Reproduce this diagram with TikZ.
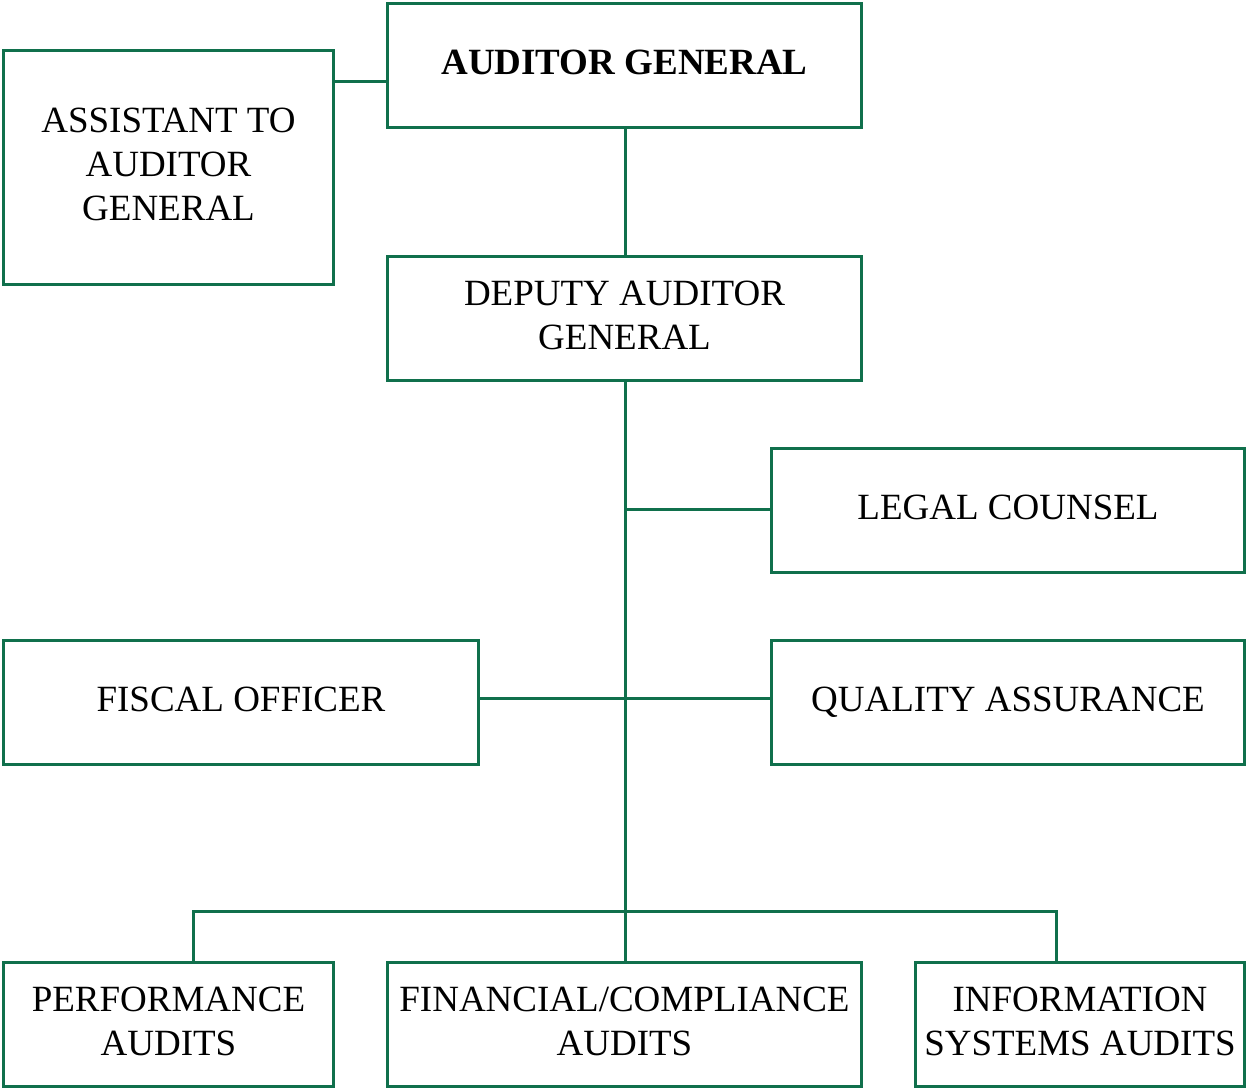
\documentclass[tikz,border=0pt]{standalone}
\usepackage{fontspec}
\setmainfont{Liberation Serif}
\definecolor{orggreen}{RGB}{16,112,76}
\begin{document}
\begin{tikzpicture}[x=1pt,y=-1pt,
  box/.style={draw=orggreen, line width=3pt, rectangle, inner sep=0pt, align=center,
    text depth=6pt, font=\fontsize{37}{44}\selectfont},
  link/.style={draw=orggreen, line width=3pt}]
\useasboundingbox (0,0) rectangle (1247,1089);
% nodes: centers and sizes (outer - line width)
\node[box, minimum width=474pt, minimum height=124pt] (ag) at (624.5,65.5) {\bfseries AUDITOR GENERAL};
\node[box, minimum width=330pt, minimum height=234pt] (asst) at (168.5,167.5) {ASSISTANT TO\\AUDITOR\\GENERAL};
\node[box, minimum width=474pt, minimum height=124pt] (dep) at (624.5,318.5) {DEPUTY AUDITOR\\GENERAL};
\node[box, minimum width=473pt, minimum height=124pt] (legal) at (1008,510.5) {LEGAL COUNSEL};
\node[box, minimum width=475pt, minimum height=124pt] (fiscal) at (241,702.5) {FISCAL OFFICER};
\node[box, minimum width=473pt, minimum height=124pt] (qa) at (1008,702.5) {QUALITY ASSURANCE};
\node[box, minimum width=330pt, minimum height=124pt] (perf) at (168.5,1024.5) {PERFORMANCE\\AUDITS};
\node[box, minimum width=474pt, minimum height=124pt] (fin) at (624.5,1024.5) {FINANCIAL/COMPLIANCE\\AUDITS};
\node[box, minimum width=329pt, minimum height=124pt] (info) at (1080,1024.5) {INFORMATION\\SYSTEMS AUDITS};
% coordinates
\coordinate (jl) at (625,509);
\coordinate (jf) at (625,698);
\coordinate (bus) at (625,911);
\coordinate (busl) at (193,911);
\coordinate (busr) at (1056,911);
% connectors
\draw[link] (asst.east |- 0,82) -- (ag.west |- 0,82);
\draw[link] (ag.south -| 625,0) -- (dep.north -| 625,0);
\draw[link] (dep.south -| 625,0) -- (fin.north -| 625,0);
\draw[link] (jl) -- (legal.west |- jl);
\draw[link] (fiscal.east |- jf) -- (qa.west |- jf);
\draw[link] (perf.north -| busl) -- (busl) -- (busr) -- (info.north -| busr);
\end{tikzpicture}
\end{document}
